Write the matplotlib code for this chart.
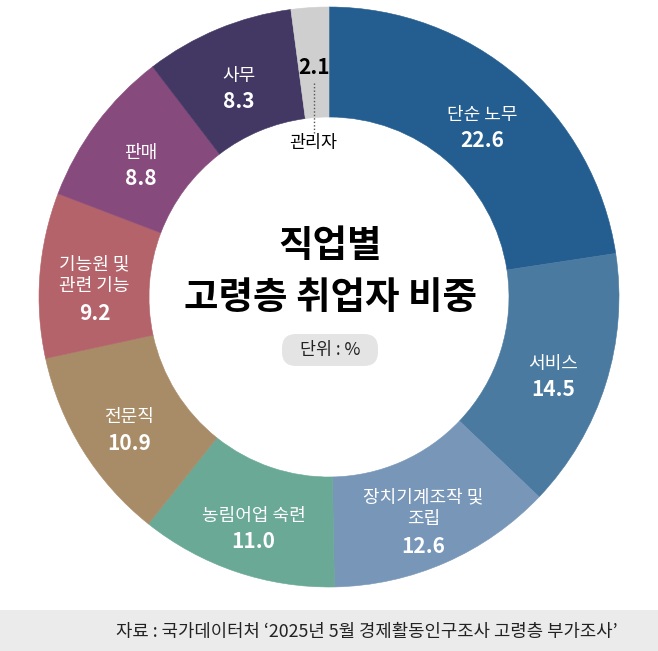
import matplotlib
matplotlib.use("Agg")
import matplotlib.pyplot as plt
from matplotlib.patches import Rectangle, FancyBboxPatch
import numpy as np

plt.rcParams['font.family'] = ['Noto Sans CJK KR', 'DejaVu Sans']

# ---- data ----
categories = ["단순 노무", "서비스", "장치기계조작 및\n조립", "농림어업 숙련", "전문직",
              "기능원 및\n관련 기능", "판매", "사무", "관리자"]
values = [22.6, 14.5, 12.6, 11.0, 10.9, 9.2, 8.8, 8.3, 2.1]
value_labels = ["22.6", "14.5", "12.6", "11.0", "10.9", "9.2", "8.8", "8.3", "2.1"]
colors = ["#245d8f", "#4a7aa0", "#7796b8", "#69a996", "#a88c68",
          "#b4636a", "#874a7d", "#433864", "#cfcfcf"]
title_lines = ["직업별", "고령층 취업자 비중"]
unit_text = "단위 : %"
source_text = "자료 : 국가데이터처 ‘2025년 5월 경제활동인구조사 고령층 부가조사’"

W, H = 658, 651
fig = plt.figure(figsize=(W / 100, H / 100), dpi=100)
ax = fig.add_axes([0, 0, 1, 1])

cx, cy = 329, H - 297
R, ring = 290, 110

wedges, _ = ax.pie(values, colors=colors, startangle=90, counterclock=False,
                   radius=R, center=(cx, cy),
                   wedgeprops=dict(width=ring, linewidth=0.4))
for w in wedges:
    w.set_edgecolor(w.get_facecolor())
ax.set_xlim(0, W)
ax.set_ylim(0, H)
ax.set_aspect('equal')
ax.axis('off')

# labels inside wedges
total = sum(values)
cum = 0
rmid = R - ring / 2
for i, (cat, v, vl) in enumerate(zip(categories, values, value_labels)):
    mid = (cum + v / 2) / total * 360
    cum += v
    if cat == "관리자":
        continue
    th = np.deg2rad(90 - mid)
    x = cx + rmid * np.cos(th)
    y = cy + rmid * np.sin(th) - 10
    nlines = cat.count("\n") + 1
    name_h = 24 * nlines
    total_h = name_h + 28
    top = y + total_h / 2
    ax.text(x, top - name_h / 2, cat, ha='center', va='center', color='white',
            fontsize=13, linespacing=1.3)
    ax.text(x, top - name_h - 14, vl, ha='center', va='center', color='white',
            fontsize=15, fontweight='bold')

# 관리자 (small slice) label with leader
mid = (total - values[-1] / 2) / total * 360
th = np.deg2rad(90 - mid)
lx = cx + (R - 20) * np.cos(th) + 3
ax.text(lx, H - 68, value_labels[-1], ha='center', va='center', color='black',
        fontsize=15, fontweight='bold')
ax.plot([lx, lx], [H - 83, H - 133], color='#555555', lw=1, ls=(0, (1, 1.5)))
ax.text(lx - 1, H - 143, categories[-1], ha='center', va='center', color='black',
        fontsize=12.5)

# center title
ax.text(cx + 1, H - 246, title_lines[0], ha='center', va='center', fontsize=27,
        fontweight='heavy', color='black')
ax.text(cx + 1, H - 298, title_lines[1], ha='center', va='center', fontsize=27,
        fontweight='heavy', color='black')

# unit pill
pill = FancyBboxPatch((cx + 1 - 34, H - 350 - 2), 68, 4,
                      boxstyle="round,pad=14", fc="#e4e4e4", ec="none")
ax.add_patch(pill)
ax.text(cx + 1, H - 350, unit_text, ha='center', va='center', fontsize=12.5, color='#222222')

# footer band
ax.add_patch(Rectangle((0, 0), W, 41, fc="#ebebeb", ec="none"))
ax.text(618, 19, source_text, ha='right', va='center', fontsize=12.8, color='#222222')

fig.savefig("out.png", dpi=100)
